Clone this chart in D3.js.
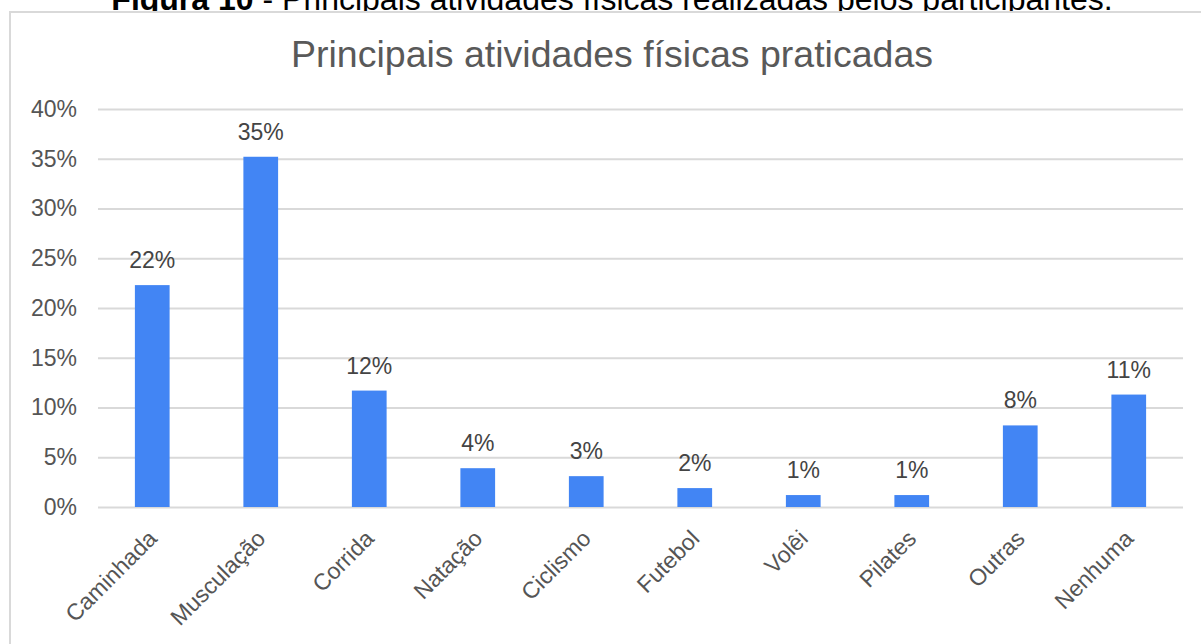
<!DOCTYPE html>
<html>
<head>
<meta charset="utf-8">
<script src="https://cdn.jsdelivr.net/npm/d3@7"></script>
<style>
  html, body { margin: 0; padding: 0; background: #ffffff; }
  svg { display: block; }
  text { font-family: "Liberation Sans", Arial, sans-serif; }
</style>
</head>
<body>
<svg id="chart" width="1201" height="644"></svg>
<script>
// Atividades físicas e percentual de participantes que as praticam
const categories = ["Caminhada", "Musculação", "Corrida", "Natação", "Ciclismo",
                    "Futebol", "Volêi", "Pilates", "Outras", "Nenhuma"];
const shares = [0.223, 0.352, 0.117, 0.039, 0.031, 0.019, 0.012, 0.012, 0.082, 0.113];
const yTicks = [0, 0.05, 0.10, 0.15, 0.20, 0.25, 0.30, 0.35, 0.40];

const captionBold = "Figura 10";
const captionRest = " - Principais atividades físicas realizadas pelos participantes.";
const chartTitle = "Principais atividades físicas praticadas";

const svg = d3.select("#chart");
const W = 1201, H = 644;
const plot = { left: 98, right: 1183, top: 109, bottom: 507 };

const pct = d3.format(".0%");

// Legenda da figura (parcialmente cortada no topo)
svg.append("text")
  .attr("x", 612).attr("y", 10)
  .attr("text-anchor", "middle")
  .attr("font-size", 32)
  .attr("fill", "#000")
  .call(t => {
    t.append("tspan").attr("font-weight", "bold").text(captionBold);
    t.append("tspan").text(captionRest);
  });

// Moldura do gráfico
svg.append("rect")
  .attr("x", 10).attr("y", 12)
  .attr("width", W + 20).attr("height", H + 20)
  .attr("fill", "#fff")
  .attr("stroke", "#d9d9d9")
  .attr("stroke-width", 2);

// Título
svg.append("text")
  .attr("x", 612).attr("y", 67)
  .attr("text-anchor", "middle")
  .attr("font-size", 37.5)
  .attr("fill", "#595959")
  .text(chartTitle);

const x = d3.scaleBand()
  .domain(categories)
  .range([plot.left, plot.right])
  .paddingInner(0.68)
  .paddingOuter(0.34);

const y = d3.scaleLinear()
  .domain([0, 0.4])
  .range([plot.bottom, plot.top]);

// Linhas de grade e rótulos do eixo Y
const yAxis = d3.axisLeft(y)
  .tickValues(yTicks)
  .tickFormat(pct)
  .tickSize(-(plot.right - plot.left))
  .tickPadding(21);

svg.append("g")
  .attr("transform", `translate(${plot.left},0)`)
  .call(yAxis)
  .call(g => g.select(".domain").remove())
  .call(g => g.selectAll(".tick line")
    .attr("stroke", "#d9d9d9")
    .attr("stroke-width", 2))
  .call(g => g.selectAll(".tick text")
    .attr("font-size", 23)
    .attr("fill", "#555")
    .attr("font-family", "'Liberation Sans', Arial, sans-serif"));

// Barras
svg.append("g")
  .selectAll("rect")
  .data(categories)
  .join("rect")
  .attr("x", d => x(d))
  .attr("width", x.bandwidth())
  .attr("y", (d, i) => y(shares[i]))
  .attr("height", (d, i) => y(0) - y(shares[i]))
  .attr("fill", "#4285f4");

// Rótulos de valor
svg.append("g")
  .selectAll("text")
  .data(categories)
  .join("text")
  .attr("x", d => x(d) + x.bandwidth() / 2)
  .attr("y", (d, i) => y(shares[i]) - 17)
  .attr("text-anchor", "middle")
  .attr("font-size", 23)
  .attr("fill", "#444")
  .text((d, i) => pct(shares[i]));

// Rótulos das categorias (inclinados)
const xAxis = d3.axisBottom(x).tickSize(0).tickPadding(0);
svg.append("g")
  .attr("transform", `translate(0,${plot.bottom})`)
  .call(xAxis)
  .call(g => g.select(".domain").remove())
  .call(g => g.selectAll(".tick text")
    .attr("font-size", 23)
    .attr("fill", "#555")
    .attr("font-family", "'Liberation Sans', Arial, sans-serif")
    .attr("text-anchor", "end")
    .attr("dy", null)
    .attr("transform", "translate(6,33) rotate(-45)"));
</script>
</body>
</html>
